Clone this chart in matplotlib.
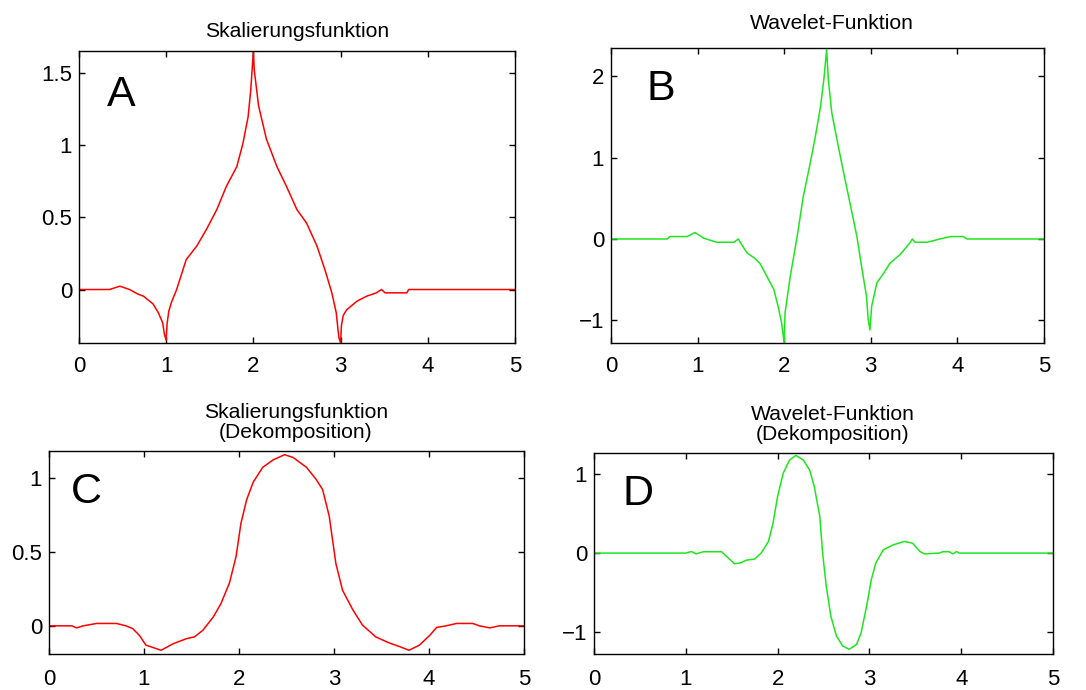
import matplotlib
matplotlib.use("Agg")
import matplotlib.pyplot as plt

plt.rcParams['font.family'] = ['Liberation Sans', 'DejaVu Sans']

# reconstruction scaling function (A)
xa = [0, 0.35, 0.47, 0.58, 0.67, 0.74, 0.85, 0.91, 0.96, 0.98, 1.0, 1.01, 1.03, 1.06, 1.12,
      1.23, 1.35, 1.46, 1.58, 1.69, 1.81, 1.88, 1.94, 1.97, 2.0, 2.01, 2.06, 2.15, 2.27,
      2.38, 2.50, 2.61, 2.73, 2.82, 2.90, 2.95, 2.98, 3.0, 3.01, 3.03, 3.07, 3.19, 3.30, 3.41,
      3.47, 3.51, 3.76, 3.78, 5.0]
ya = [0, 0, 0.023, 0, -0.03, -0.046, -0.10, -0.16, -0.23, -0.31, -0.35, -0.24, -0.15, -0.09, 0,
      0.207, 0.30, 0.414, 0.552, 0.713, 0.85, 1.01, 1.196, 1.38, 1.65, 1.52, 1.27, 1.04, 0.85,
      0.713, 0.552, 0.46, 0.30, 0.138, -0.023, -0.16, -0.33, -0.37, -0.25, -0.18, -0.14, -0.08, -0.046, -0.023,
      0, -0.023, -0.023, 0, 0]

# reconstruction wavelet (B)
xb = [0, 0.65, 0.68, 0.88, 0.97, 1.07, 1.22, 1.42, 1.47, 1.51, 1.57, 1.65, 1.72, 1.80,
      1.88, 1.93, 1.97, 2.0, 2.01, 2.07, 2.15, 2.22, 2.30, 2.36, 2.42, 2.46, 2.49, 2.51,
      2.55, 2.61, 2.68, 2.76, 2.84, 2.90, 2.95, 2.97, 2.99, 3.01, 3.07, 3.15, 3.22, 3.34,
      3.45, 3.48, 3.51, 3.65, 3.80, 3.92, 4.07, 4.11, 5.0]
yb = [0, 0, 0.03, 0.03, 0.08, 0.01, -0.04, -0.04, 0, -0.07, -0.17, -0.23, -0.30, -0.46,
      -0.62, -0.83, -1.03, -1.28, -0.91, -0.46, 0.03, 0.52, 0.93, 1.26, 1.63, 1.98, 2.33, 1.96,
      1.55, 1.22, 0.85, 0.44, 0.03, -0.38, -0.70, -0.99, -1.12, -0.83, -0.54, -0.42, -0.30, -0.19,
      -0.05, 0, -0.04, -0.04, 0, 0.03, 0.03, 0, 0]

# decomposition scaling function (C)
xc = [0, 0.24, 0.29, 0.36, 0.50, 0.71, 0.81, 0.88, 0.95, 1.02, 1.13, 1.18, 1.31, 1.45,
      1.53, 1.62, 1.73, 1.81, 1.90, 1.97, 2.02, 2.08, 2.15, 2.25, 2.36, 2.48, 2.57, 2.71,
      2.81, 2.88, 2.95, 3.02, 3.09, 3.20, 3.30, 3.44, 3.58, 3.69, 3.79, 3.90, 4.01, 4.08,
      4.18, 4.29, 4.46, 4.53, 4.64, 4.74, 5.0]
yc = [0, 0, -0.014, 0, 0.016, 0.016, 0, -0.018, -0.063, -0.13, -0.154, -0.165, -0.12, -0.086,
      -0.075, -0.03, 0.06, 0.15, 0.29, 0.47, 0.69, 0.85, 0.97, 1.07, 1.12, 1.155, 1.136, 1.07,
      0.99, 0.92, 0.74, 0.42, 0.24, 0.106, 0.005, -0.075, -0.115, -0.14, -0.165, -0.13, -0.063, -0.011,
      0, 0.016, 0.016, 0, -0.014, 0, 0]

# decomposition wavelet (D)
xd = [0, 1.0, 1.06, 1.11, 1.19, 1.39, 1.46, 1.53, 1.59, 1.66, 1.75, 1.82, 1.90, 1.95,
      2.00, 2.06, 2.13, 2.20, 2.28, 2.35, 2.40, 2.46, 2.49, 2.53, 2.58, 2.64, 2.71, 2.78,
      2.86, 2.91, 2.97, 3.02, 3.07, 3.15, 3.26, 3.38, 3.47, 3.55, 3.60, 3.76, 3.80, 3.87,
      3.91, 3.95, 3.98, 5.0]
yd = [0, 0, 0.02, -0.01, 0.017, 0.017, -0.06, -0.135, -0.126, -0.09, -0.076, 0, 0.147, 0.38,
      0.72, 1.01, 1.18, 1.24, 1.18, 1.05, 0.84, 0.46, 0, -0.42, -0.80, -1.05, -1.18, -1.22,
      -1.16, -1.01, -0.67, -0.34, -0.126, 0.04, 0.105, 0.147, 0.126, 0.02, -0.01, 0, 0.017, 0.017,
      -0.01, 0.02, 0, 0]

titles = ["Skalierungsfunktion", "Wavelet-Funktion",
          "Skalierungsfunktion\n(Dekomposition)", "Wavelet-Funktion\n(Dekomposition)"]
letters = ["A", "B", "C", "D"]
yticks = [[0, 0.5, 1, 1.5], [-1, 0, 1, 2], [0, 0.5, 1], [-1, 0, 1]]
ylims = [(-0.37, 1.65), (-1.28, 2.35), (-0.19, 1.18), (-1.28, 1.27)]

fig = plt.figure(figsize=(10.86, 6.9), dpi=100)
rects = [[0.0727, 0.5029, 0.4015, 0.4232],
         [0.5626, 0.5029, 0.3987, 0.4275],
         [0.0451, 0.0522, 0.4374, 0.2942],
         [0.5470, 0.0522, 0.4226, 0.2913]]
letter_pos = [(0.064, 0.812), (0.083, 0.824), (0.046, 0.744), (0.061, 0.741)]
title_pad = [10, 13.5, 9, 9]
title_x = [0.5, 0.51, 0.52, 0.52]
xpad = [9.5, 9.5, 10.5, 10.5]

data = [(xa, ya, 'r'), (xb, yb, '#1ee61e'), (xc, yc, 'r'), (xd, yd, '#1ee61e')]

for i in range(4):
    ax = fig.add_axes(rects[i])
    x, y, c = data[i]
    ax.plot(x, y, color=c, lw=1.1)
    ax.set_xlim(0, 5)
    ax.set_ylim(*ylims[i])
    ax.set_xticks(range(6))
    ax.set_yticks(yticks[i])
    ax.set_yticklabels([('%g' % v).replace('-', '\u2212') for v in yticks[i]])
    ax.tick_params(direction='in', top=True, right=True, length=4, width=1, labelsize=16)
    ax.tick_params(axis='x', pad=xpad[i])
    ax.tick_params(axis='y', pad=5)
    for s in ax.spines.values():
        s.set_linewidth(1.0)
    ax.set_title(titles[i], fontsize=15.2, pad=title_pad[i], x=title_x[i], linespacing=1.1)
    ax.text(letter_pos[i][0], letter_pos[i][1], letters[i], transform=ax.transAxes,
            fontsize=31, ha='left', va='baseline')

fig.savefig("out.png", dpi=100, facecolor='white')
